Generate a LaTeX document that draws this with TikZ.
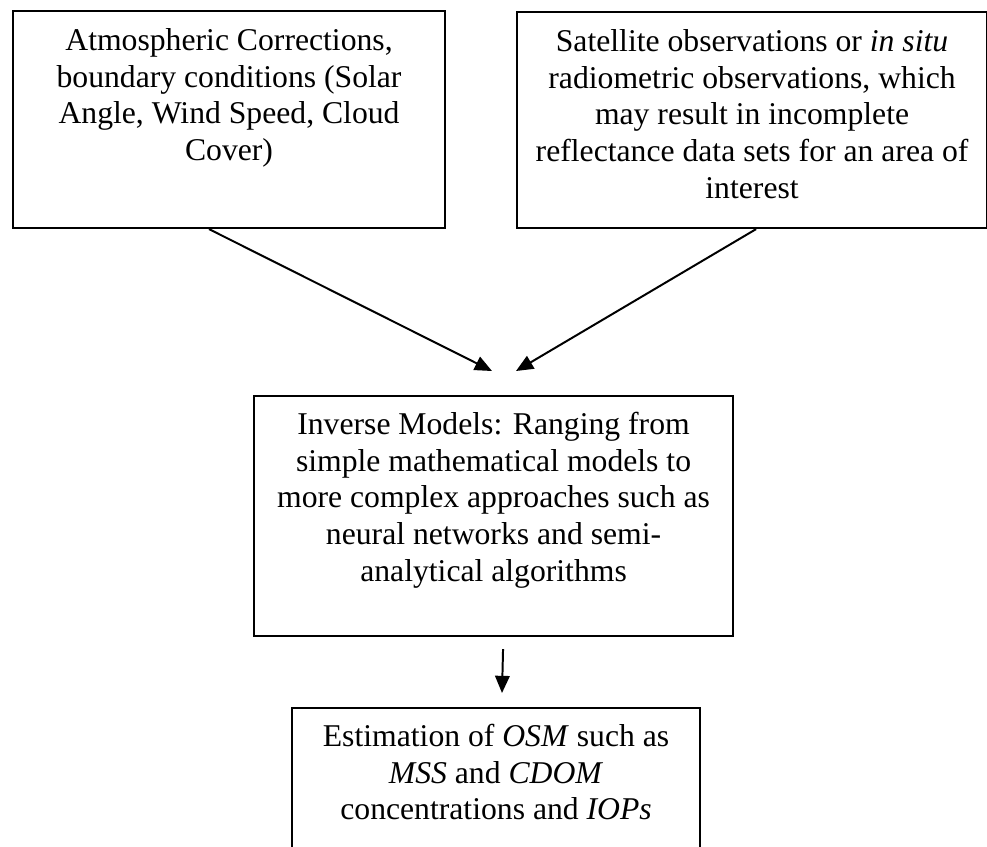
\documentclass[tikz,border=0pt]{standalone}
\usepackage{fontspec}
\setmainfont{Liberation Serif}
\usetikzlibrary{arrows.meta,calc}
\begin{document}
\begin{tikzpicture}[x=0.3788pt,y=-0.3788pt,
  boxstyle/.style={draw=black,line width=0.8pt,rectangle,inner sep=0pt,anchor=north west},
  txt/.style={align=center,inner sep=0pt,anchor=north,font=\fontsize{12}{13.9}\selectfont},
  arr/.style={line width=0.75pt,-{Triangle[length=6.5pt,width=5.5pt]}}]
\useasboundingbox (0,0) rectangle (987,846);
\clip (0,0) rectangle (987,846);
% boxes
\node[boxstyle,minimum width=432*0.3788pt,minimum height=217*0.3788pt] (b1) at (12,10) {};
\node[boxstyle,minimum width=470*0.3788pt,minimum height=216*0.3788pt] (b2) at (516,11) {};
\node[boxstyle,minimum width=479*0.3788pt,minimum height=240*0.3788pt] (b3) at (253,395) {};
\node[boxstyle,minimum width=408*0.3788pt,minimum height=200*0.3788pt] (b4) at (291,707) {};
% texts
\node[txt] (t1) at ($(b1.north)+(0,18)$) {Atmospheric Corrections,\\ boundary conditions (Solar\\ Angle, Wind Speed, Cloud\\ Cover)};
\node[txt] (t2) at ($(b2.north)+(0,18)$) {Satellite observations or \textit{in situ}\\ radiometric observations, which\\ may result in incomplete\\ reflectance data sets for an area of\\ interest};
\node[txt] (t3) at ($(b3.north)+(0,16.5)$) {Inverse Models: Ranging from\\ simple mathematical models to\\ more complex approaches such as\\ neural networks and semi-\\ analytical algorithms};
\node[txt] (t4) at ($(b4.north)+(0,16.5)$) {Estimation of \textit{OSM} such as\\ \textit{MSS} and \textit{CDOM}\\ concentrations and \textit{IOPs}};
% arrow end points
\coordinate (e1) at (492,371);
\coordinate (e2) at (516,371);
\coordinate (e3) at (502,693);
\draw[arr] ($(b1.south)+(-20,0)$) -- (e1);
\draw[arr] ($(b2.south)+(4,0)$) -- (e2);
\draw[arr] ($(b3.south)+(9.5,12)$) -- (e3);
\end{tikzpicture}
\end{document}
